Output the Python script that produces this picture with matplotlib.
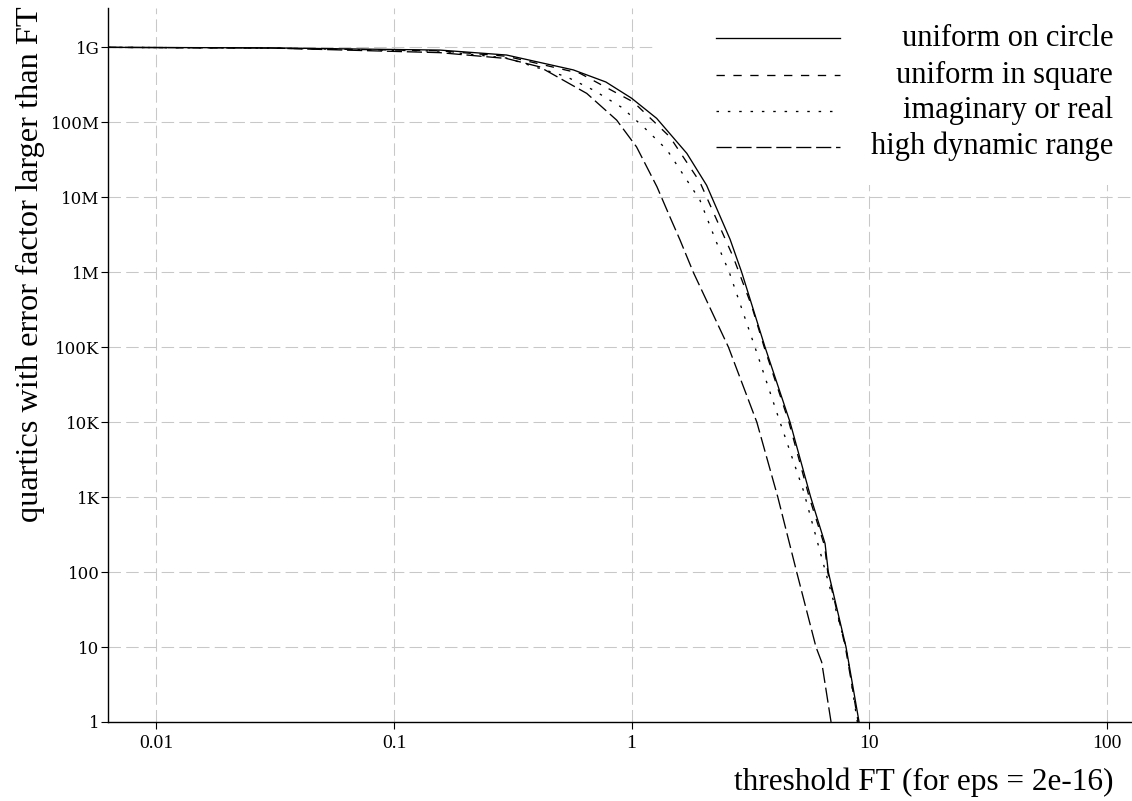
import matplotlib
matplotlib.use("Agg")
import matplotlib.pyplot as plt
from matplotlib.patches import Rectangle

# threshold FT vs number of quartics whose error factor exceeds FT
circle_ft = [0.00625, 0.03, 0.156, 0.298, 0.569, 0.78, 1.0, 1.276, 1.71, 2.07, 2.60, 2.91, 3.65, 4.65, 5.68, 6.53, 6.74, 8.0, 9.08]
circle_n = [1.0e9, 9.84e8, 9.2e8, 7.9e8, 5.0e8, 3.45e8, 2.1e8, 1.13e8, 3.85e7, 1.45e7, 2.75e6, 1.0e6, 1.0e5, 1.0e4, 1.0e3, 240, 100, 10, 1]

square_ft = [0.00625, 0.03, 0.156, 0.298, 0.607, 1.02, 1.45, 1.94, 2.68, 3.21, 3.62, 4.6, 5.6, 6.5, 6.7, 7.95, 9.0]
square_n = [1.0e9, 9.77e8, 9.0e8, 7.6e8, 4.5e8, 1.86e8, 6.4e7, 1.6e7, 1.6e6, 3.5e5, 1.0e5, 1.0e4, 1.0e3, 224, 100, 10, 1]

imag_ft = [0.00625, 0.03, 0.156, 0.298, 0.533, 0.69, 0.91, 1.14, 1.41, 1.94, 2.28, 2.58, 3.31, 4.22, 5.29, 6.42, 8.0, 8.93]
imag_n = [1.0e9, 9.8e8, 8.9e8, 7.2e8, 4.05e8, 2.7e8, 1.58e8, 8.3e7, 4.3e7, 9.2e6, 2.5e6, 1.0e6, 1.0e5, 1.0e4, 1.23e3, 130, 10, 1]

hdr_ft = [0.00625, 0.03, 0.156, 0.298, 0.41, 0.648, 0.866, 1.05, 1.28, 1.45, 1.6, 1.82, 2.56, 3.37, 4.13, 4.96, 5.98, 6.32, 6.92]
hdr_n = [1.0e9, 9.8e8, 8.5e8, 7.1e8, 5.5e8, 2.43e8, 1.07e8, 4.7e7, 1.38e7, 5.5e6, 2.7e6, 1.0e6, 1.0e5, 1.0e4, 1.0e3, 100, 10, 6.3, 1]

labels = ["uniform on circle", "uniform in square", "imaginary or real", "high dynamic range"]
x_ticks = [0.01, 0.1, 1, 10, 100]
x_ticklabels = ["0.01", "0.1", "1", "10", "100"]
y_ticks = [1, 10, 100, 1e3, 1e4, 1e5, 1e6, 1e7, 1e8, 1e9]
y_ticklabels = ["1", "10", "100", "1K", "10K", "100K", "1M", "10M", "100M", "1G"]

styles = ["-", (0, (6.3, 6.5)), (0, (1.9, 6.7)), (0, (11.5, 3.6))]

W, H = 1132, 801
fig = plt.figure(figsize=(W / 100, H / 100), dpi=100)
# axes box in pixels: left 108, right 1132, top 8, bottom 722
ax = fig.add_axes([108 / W, 1 - 722 / H, 1024 / W, 714 / H])
ax.set_xscale("log")
ax.set_yscale("log")
ax.set_xlim(0.00625, 128)
ax.set_ylim(1, 3.35e9)

ax.set_axisbelow(True)
ax.grid(True, color="#c8c8c8", linewidth=0.75, linestyle=(0, (12, 5)))
ax.minorticks_off()

series = [(circle_ft, circle_n), (square_ft, square_n), (imag_ft, imag_n), (hdr_ft, hdr_n)]
for (xs, ys), ls in zip(series, styles):
    ax.plot(xs, ys, color="black", linewidth=0.95, linestyle=ls, zorder=2)

ax.set_xticks(x_ticks)
ax.set_xticklabels(x_ticklabels, fontfamily="Liberation Serif", fontsize=14)
ax.set_yticks(y_ticks)
ax.set_yticklabels(y_ticklabels, fontfamily="DejaVu Serif", fontsize=12)
ax.tick_params(axis="both", direction="out", length=5, width=0.8, color="black")
ax.tick_params(axis="x", pad=4)
ax.tick_params(axis="y", pad=1)

for side in ["top", "right"]:
    ax.spines[side].set_visible(False)
for side in ["left", "bottom"]:
    ax.spines[side].set_linewidth(1.0)

# white legend box hiding the grid behind it
ax.add_patch(Rectangle(((653 - 108) / 1024, (722 - 185) / 714), 1.0, 0.3,
                       transform=ax.transAxes, facecolor="white", edgecolor="none",
                       zorder=1, clip_on=False))

rows_y = [38.3, 75, 110.7, 146.7]
for lab, ls, py in zip(labels, styles, rows_y):
    fy = 1 - py / H
    fig.add_artist(plt.Line2D([716 / W, 840 / W], [fy, fy], color="black",
                              linewidth=0.95, linestyle=ls))
    fig.text(1113 / W, fy, lab, ha="right", va="center",
             fontfamily="Liberation Serif", fontsize=22)

fig.text(1113 / W, 1 - 782 / H, "threshold FT (for eps = 2e-16)", ha="right", va="center",
         fontfamily="Liberation Serif", fontsize=22.5)
fig.text(30 / W, 1 - 6 / H, "quartics with error factor larger than FT", ha="center", va="top",
         rotation=90, fontfamily="Liberation Serif", fontsize=23.3)

fig.savefig("out.png", dpi=100)
